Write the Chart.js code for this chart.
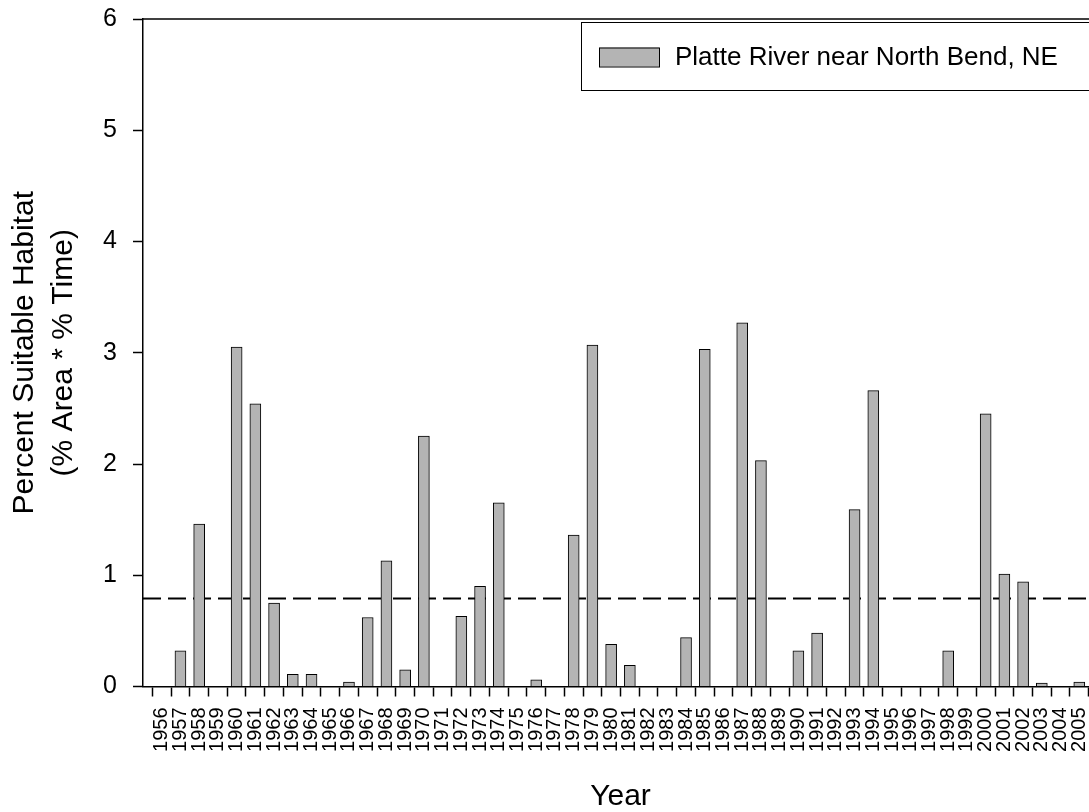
<!DOCTYPE html>
<html>
<head>
<meta charset="utf-8">
<title>Platte River near North Bend, NE</title>
<script src="https://cdn.jsdelivr.net/npm/chart.js@4.4.1/dist/chart.umd.min.js"></script>
<style>
    body { margin: 0; background: #ffffff; overflow: hidden; }
    #wrap { width: 1110px; height: 812px; }
</style>
</head>
<body>
<div id="wrap">
    <canvas id="habitatChart" width="1110" height="812"></canvas>
</div>
<script>
var years = [1956, 1957, 1958, 1959, 1960, 1961, 1962, 1963, 1964, 1965,
             1966, 1967, 1968, 1969, 1970, 1971, 1972, 1973, 1974, 1975,
             1976, 1977, 1978, 1979, 1980, 1981, 1982, 1983, 1984, 1985,
             1986, 1987, 1988, 1989, 1990, 1991, 1992, 1993, 1994, 1995,
             1996, 1997, 1998, 1999, 2000, 2001, 2002, 2003, 2004, 2005];

var habitat = [0, 0.32, 1.46, 0, 3.05, 2.54, 0.75, 0.11, 0.11, 0,
               0.04, 0.62, 1.13, 0.15, 2.25, 0, 0.63, 0.90, 1.65, 0,
               0.06, 0, 1.36, 3.07, 0.38, 0.19, 0, 0, 0.44, 3.03,
               0, 3.27, 2.03, 0, 0.32, 0.48, 0, 1.59, 2.66, 0,
               0, 0, 0.32, 0, 2.45, 1.01, 0.94, 0.03, 0, 0.04];

var yTicks = [0, 1, 2, 3, 4, 5, 6];
var xRange = [1955, 2006];
var threshold = 0.79;

var seriesName = 'Platte River near North Bend, NE';
var fontName = '"Liberation Sans", Arial, sans-serif';

// top edge of the frame plus the boxed legend
var frameAndLegend = {
    id: 'frameAndLegend',
    afterDraw: function (chart) {
        var ctx = chart.ctx;
        var area = chart.chartArea;
        var ds = chart.data.datasets[0];

        ctx.save();
        ctx.strokeStyle = '#000000';
        ctx.lineWidth = 1.5;
        ctx.beginPath();
        ctx.moveTo(area.left, area.top);
        ctx.lineTo(area.right, area.top);
        ctx.stroke();

        var boxLeft = area.right - 517;
        var boxTop = area.top + 3.5;
        ctx.lineWidth = 1;
        ctx.strokeRect(boxLeft + 0.5, boxTop, area.right - 4 - boxLeft, 68);

        ctx.fillStyle = ds.backgroundColor;
        ctx.fillRect(boxLeft + 18, boxTop + 25, 60, 19);
        ctx.strokeStyle = ds.borderColor;
        ctx.strokeRect(boxLeft + 18.5, boxTop + 25.5, 60, 19);

        ctx.fillStyle = '#000000';
        ctx.font = '26px ' + fontName;
        ctx.textAlign = 'left';
        ctx.textBaseline = 'middle';
        ctx.fillText(ds.label, boxLeft + 94, boxTop + 35);
        ctx.restore();
    }
};

function buildBars() {
    var points = [];
    for (var i = 0; i < years.length; i++) {
        points.push({ x: years[i], y: habitat[i] });
    }
    return points;
}

function loadHabitatChart() {
    var canvas = document.getElementById('habitatChart').getContext('2d');

    var chartData = {
        datasets: [
            {
                type: 'bar',
                label: seriesName,
                data: buildBars(),
                backgroundColor: '#b4b4b4',
                borderColor: '#000000',
                borderWidth: 1,
                barThickness: 11
            },
            {
                type: 'line',
                label: 'threshold',
                data: [{ x: xRange[0], y: threshold }, { x: xRange[1], y: threshold }],
                borderColor: '#000000',
                borderWidth: 2,
                borderDash: [18, 7],
                pointRadius: 0,
                fill: false
            }
        ]
    };

    var chartOptions = {
        responsive: false,
        animation: false,
        layout: { padding: { top: 19, right: 12, left: 0, bottom: 0 } },
        plugins: {
            legend: { display: false },
            tooltip: { enabled: false }
        },
        scales: {
            x: {
                type: 'linear',
                min: xRange[0],
                max: xRange[1],
                offset: false,
                afterBuildTicks: function (scale) {
                    scale.ticks = years.map(function (y) { return { value: y }; });
                },
                afterFit: function (scale) {
                    scale.height = 125.5;
                    scale.paddingLeft = 0;
                    scale.paddingRight = 0;
                },
                grid: {
                    drawOnChartArea: false,
                    drawTicks: true,
                    tickLength: 10,
                    tickColor: '#000000',
                    tickWidth: 1.5
                },
                border: { display: true, color: '#000000', width: 1.5 },
                ticks: {
                    autoSkip: false,
                    maxRotation: 90,
                    minRotation: 90,
                    padding: 11,
                    color: '#000000',
                    font: { family: fontName, size: 20 },
                    callback: function (value) { return String(value); }
                },
                title: {
                    display: true,
                    text: 'Year',
                    color: '#000000',
                    padding: { top: 0, bottom: 0 },
                    font: { family: fontName, size: 30, lineHeight: 1 }
                }
            },
            y: {
                min: yTicks[0],
                max: yTicks[yTicks.length - 1],
                afterBuildTicks: function (scale) {
                    scale.ticks = yTicks.map(function (v) { return { value: v }; });
                },
                afterFit: function (scale) {
                    scale.width = 143;
                    scale.paddingTop = 0;
                    scale.paddingBottom = 0;
                },
                grid: {
                    drawOnChartArea: false,
                    drawTicks: true,
                    tickLength: 10,
                    tickColor: '#000000',
                    tickWidth: 1.5
                },
                border: { display: true, color: '#000000', width: 1.5 },
                ticks: {
                    padding: 16,
                    color: '#000000',
                    font: { family: fontName, size: 25 }
                },
                title: {
                    display: true,
                    text: ['Percent Suitable Habitat', '(% Area * % Time)'],
                    color: '#000000',
                    padding: { top: 5, bottom: 0 },
                    font: { family: fontName, size: 30, lineHeight: 1.3 }
                }
            }
        }
    };

    var habitatChart = new Chart(canvas, {
        type: 'bar',
        data: chartData,
        options: chartOptions,
        plugins: [frameAndLegend]
    });
}

loadHabitatChart();
</script>
</body>
</html>
